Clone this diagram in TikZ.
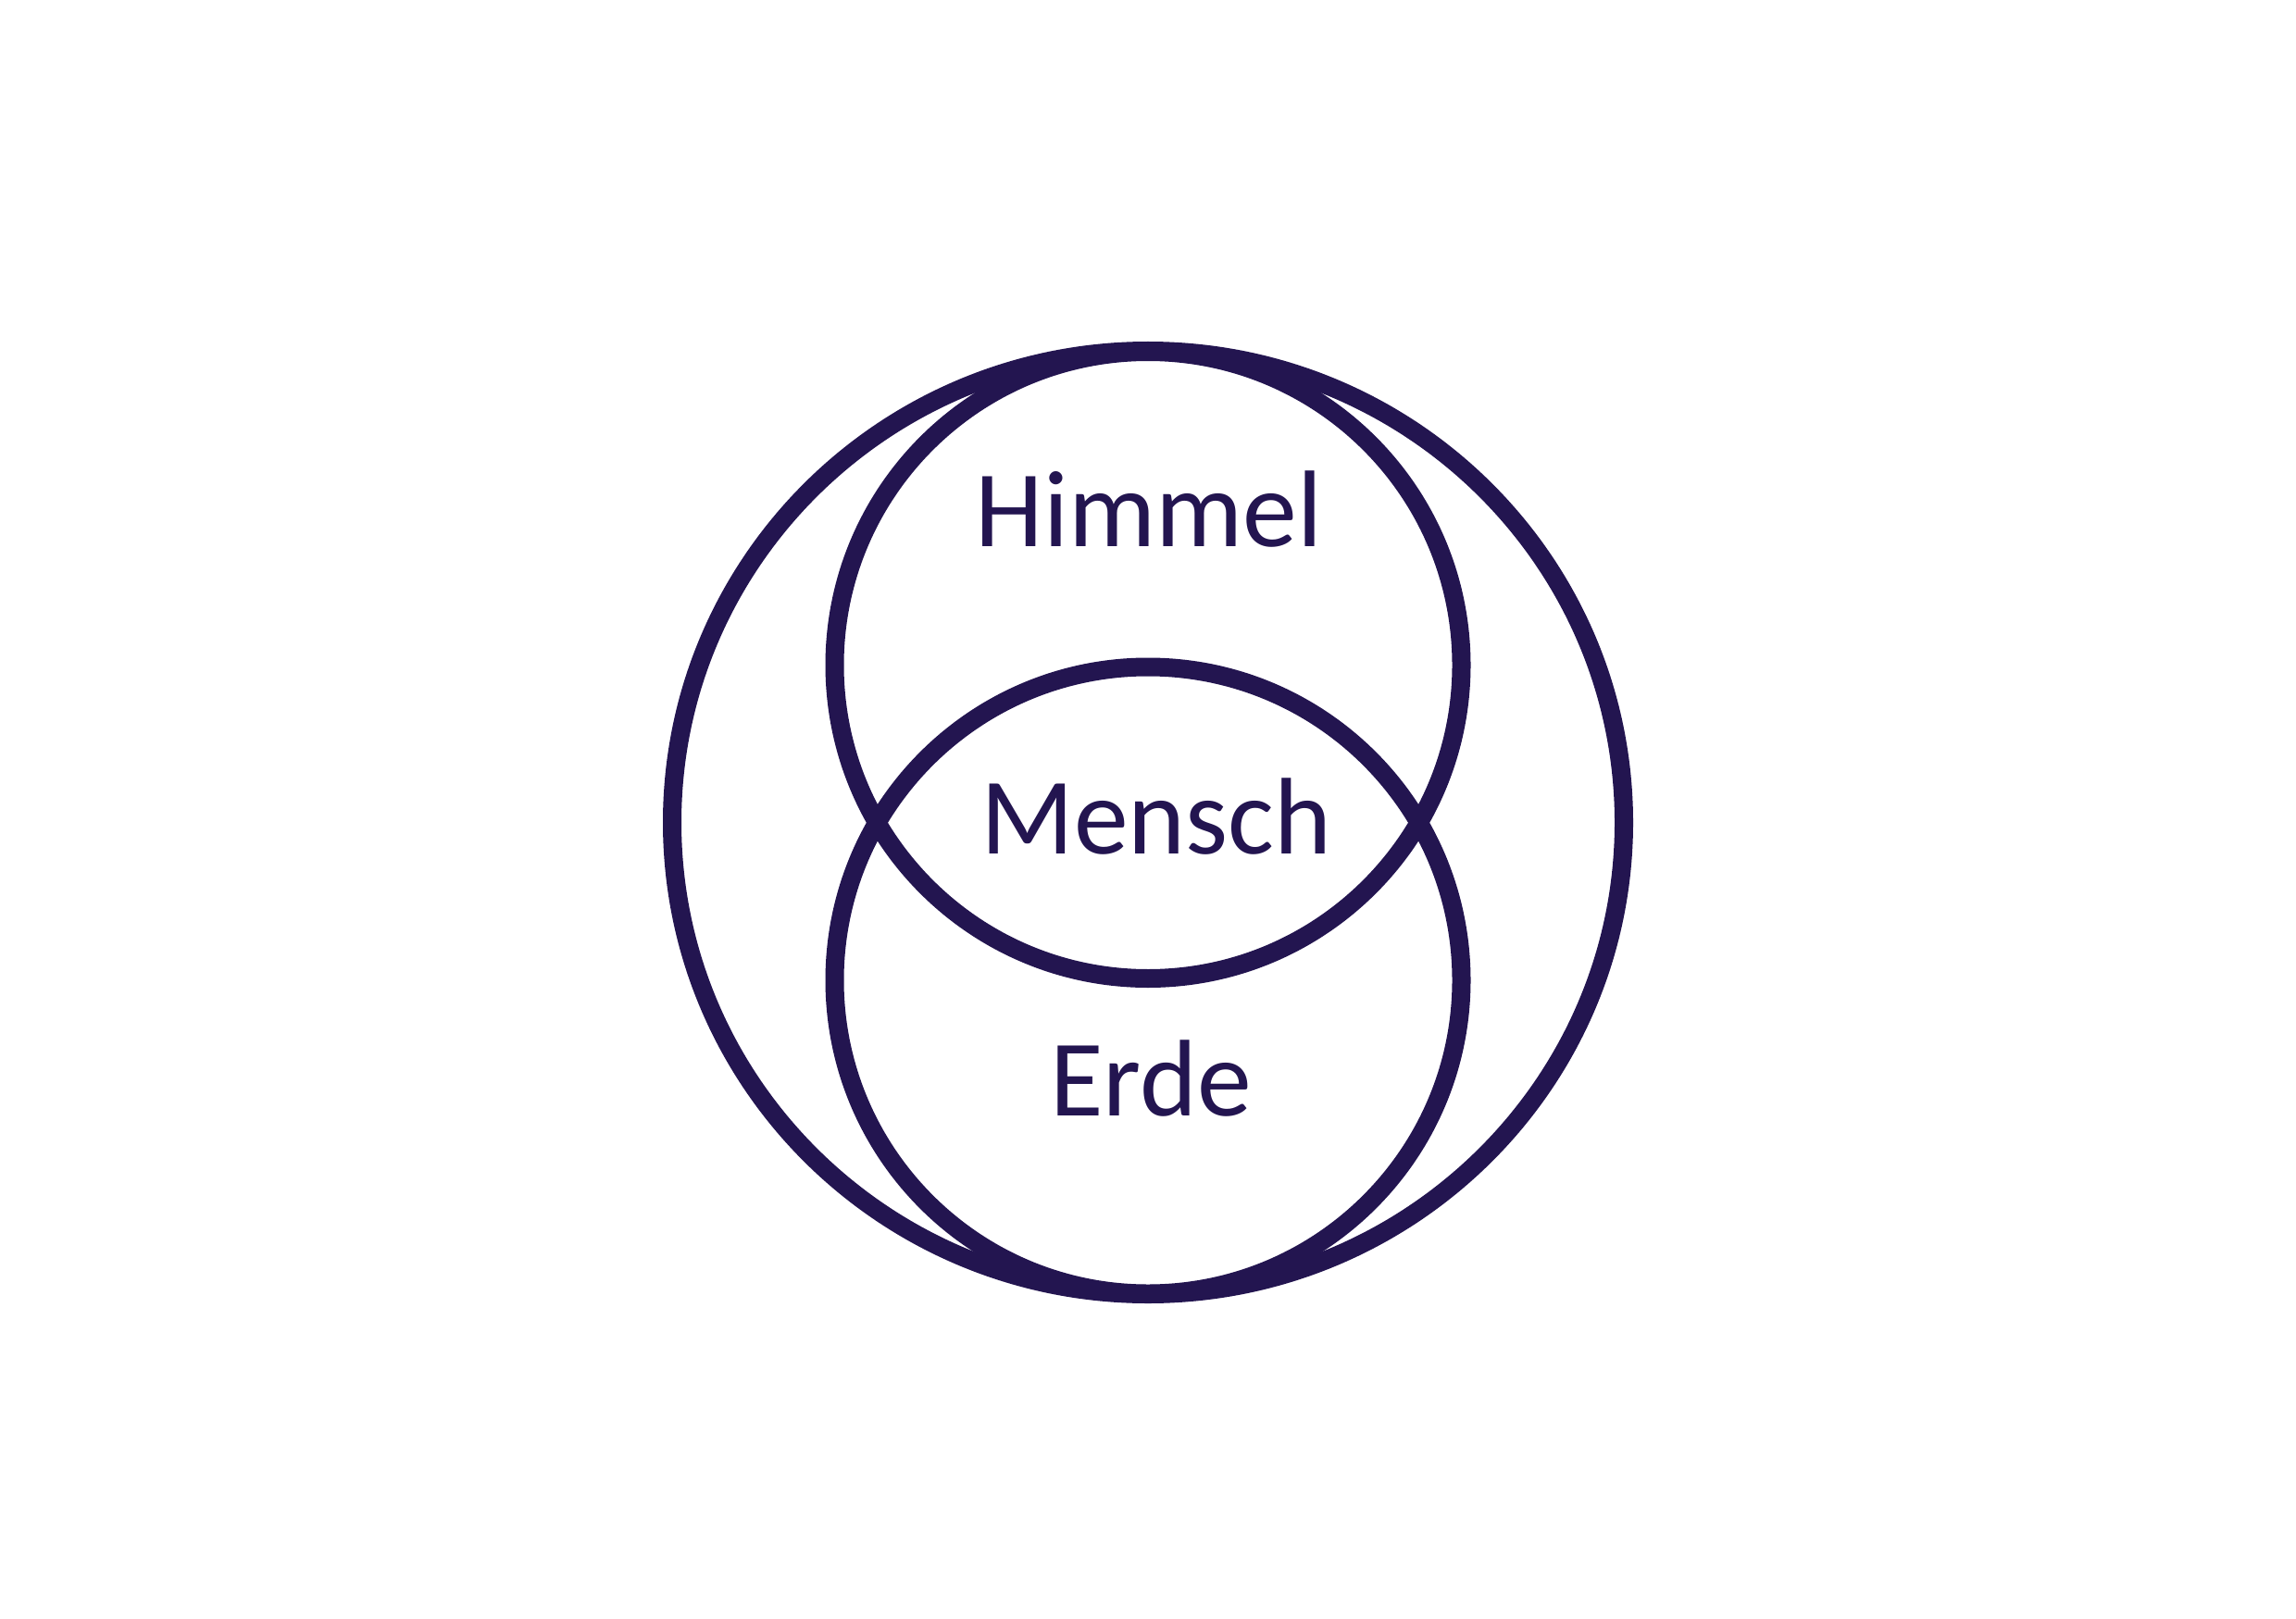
\documentclass[tikz,border=0pt]{standalone}
\usepackage{fontspec}
\setmainfont{Carlito}
\usepackage{tikz}
\usetikzlibrary{positioning}
\definecolor{ringviolet}{HTML}{231550}

\begin{document}
\begin{tikzpicture}[ring/.style={draw=ringviolet, line width=0.2cm},
  label/.style={text=ringviolet, anchor=base, inner sep=0pt, font=\fontsize{33.5}{40}\selectfont}]

\useasboundingbox (0,0) rectangle (24.8,17.48);

% outer ring and the two inner circles
\draw[ring] (12.40,8.595) ellipse [x radius=5.14, y radius=5.095];
\draw[ring] (12.40,10.295) circle [radius=3.385];
\draw[ring] (12.40,6.89) circle [radius=3.385];

\path
(12.41,11.57) node[label] (himmel) {Himmel}
(12.49,8.26) node[label] (mensch) {Mensch}
(12.43,5.43) node[label] (erde) {Erde};

\end{tikzpicture}
\end{document}
